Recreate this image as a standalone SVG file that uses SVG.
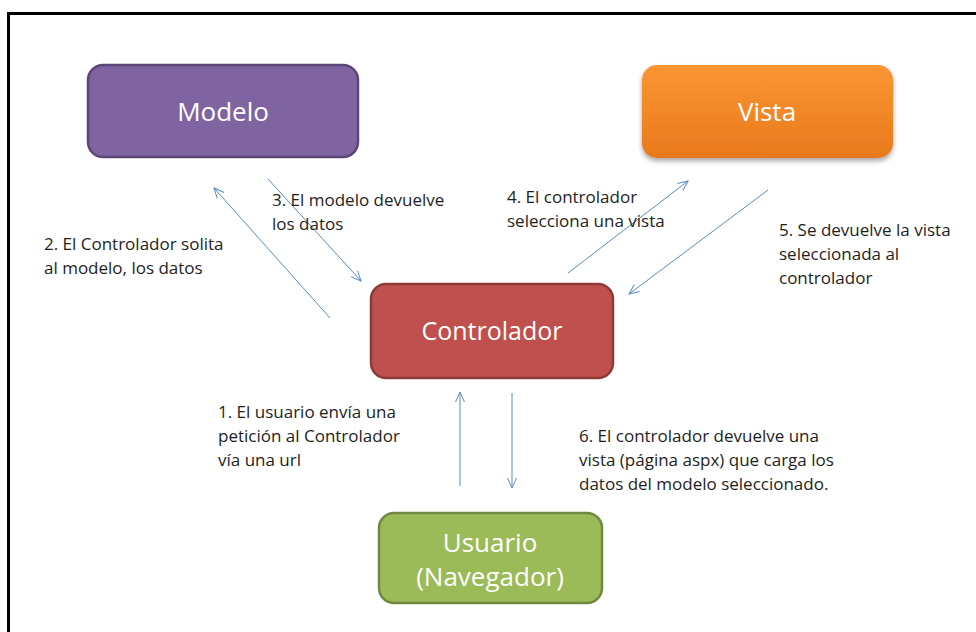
<svg xmlns="http://www.w3.org/2000/svg" width="976" height="632" viewBox="0 0 976 632">
  <defs>
    <style>
      .node-label { font-family: "Open Sans", "Liberation Sans", sans-serif; font-size: 26px; fill: #ffffff; text-anchor: middle; }
      .note { font-family: "Open Sans", "Liberation Sans", sans-serif; font-size: 17px; fill: #1e1e1e; }
      .conn { stroke: #5b8bc4; stroke-width: 1; fill: none; marker-end: url(#arrow); }
    </style>
    <marker id="arrow" markerUnits="userSpaceOnUse" viewBox="-11 -6 12 12" refX="0" refY="0" markerWidth="12" markerHeight="12" orient="auto">
      <path d="M-10,-4.5 L0,0 L-10,4.5" fill="none" stroke="#5b8bc4" stroke-width="1"/>
    </marker>
    <linearGradient id="orangeGrad" x1="0" y1="0" x2="0" y2="1">
      <stop offset="0" stop-color="#fb9633"/>
      <stop offset="1" stop-color="#e8791c"/>
    </linearGradient>
    <filter id="shadow" x="-10%" y="-10%" width="120%" height="135%">
      <feDropShadow dx="0" dy="3" stdDeviation="2.5" flood-color="#000000" flood-opacity="0.35"/>
    </filter>
  </defs>

  <rect x="0" y="0" width="976" height="632" fill="#ffffff"/>
  <path d="M8.5,632 V13.5 H976" fill="none" stroke="#000000" stroke-width="3"/>

  <g id="modelo">
    <rect x="88" y="65" width="270" height="92" rx="15" ry="15" fill="#8064a2" stroke="#5c4677" stroke-width="2.5"/>
    <text class="node-label" x="223" y="121">Modelo</text>
  </g>

  <g id="vista">
    <rect x="642" y="65" width="251" height="93" rx="15" ry="15" fill="url(#orangeGrad)" filter="url(#shadow)"/>
    <text class="node-label" x="767" y="121">Vista</text>
  </g>

  <g id="controlador">
    <rect x="371" y="284" width="242" height="94" rx="15" ry="15" fill="#c0504d" stroke="#8c3a38" stroke-width="2.5"/>
    <text class="node-label" x="492" y="340" style="font-size:25px">Controlador</text>
  </g>

  <g id="usuario">
    <rect x="379" y="513" width="223" height="90" rx="15" ry="15" fill="#9bbb59" stroke="#71893f" stroke-width="2.5"/>
    <text class="node-label" x="490" y="552">Usuario</text>
    <text class="node-label" x="490" y="586">(Navegador)</text>
  </g>

  <g id="connectors">
    <line class="conn" x1="330" y1="318" x2="214" y2="188"/>
    <line class="conn" x1="268" y1="179" x2="361" y2="281"/>
    <line class="conn" x1="568" y1="273" x2="688" y2="181"/>
    <line class="conn" x1="768" y1="190" x2="629" y2="294"/>
    <line class="conn" x1="460" y1="486" x2="460" y2="392"/>
    <line class="conn" x1="512" y1="393" x2="512" y2="488"/>
  </g>

  <g id="labels">
    <text class="note" x="44" y="250">2. El Controlador solita</text>
    <text class="note" x="44" y="274">al modelo, los datos</text>

    <text class="note" x="272" y="206">3. El modelo devuelve</text>
    <text class="note" x="272" y="230">los datos</text>

    <text class="note" x="507" y="203">4. El controlador</text>
    <text class="note" x="507" y="227">selecciona una vista</text>

    <text class="note" x="779" y="236">5. Se devuelve la vista</text>
    <text class="note" x="779" y="260">seleccionada al</text>
    <text class="note" x="779" y="284">controlador</text>

    <text class="note" x="218" y="418">1. El usuario envía una</text>
    <text class="note" x="218" y="442">petición al Controlador</text>
    <text class="note" x="218" y="466">vía una url</text>

    <text class="note" x="579" y="442">6. El controlador devuelve una</text>
    <text class="note" x="579" y="466">vista (página aspx) que carga los</text>
    <text class="note" x="579" y="490">datos del modelo seleccionado.</text>
  </g>
</svg>
